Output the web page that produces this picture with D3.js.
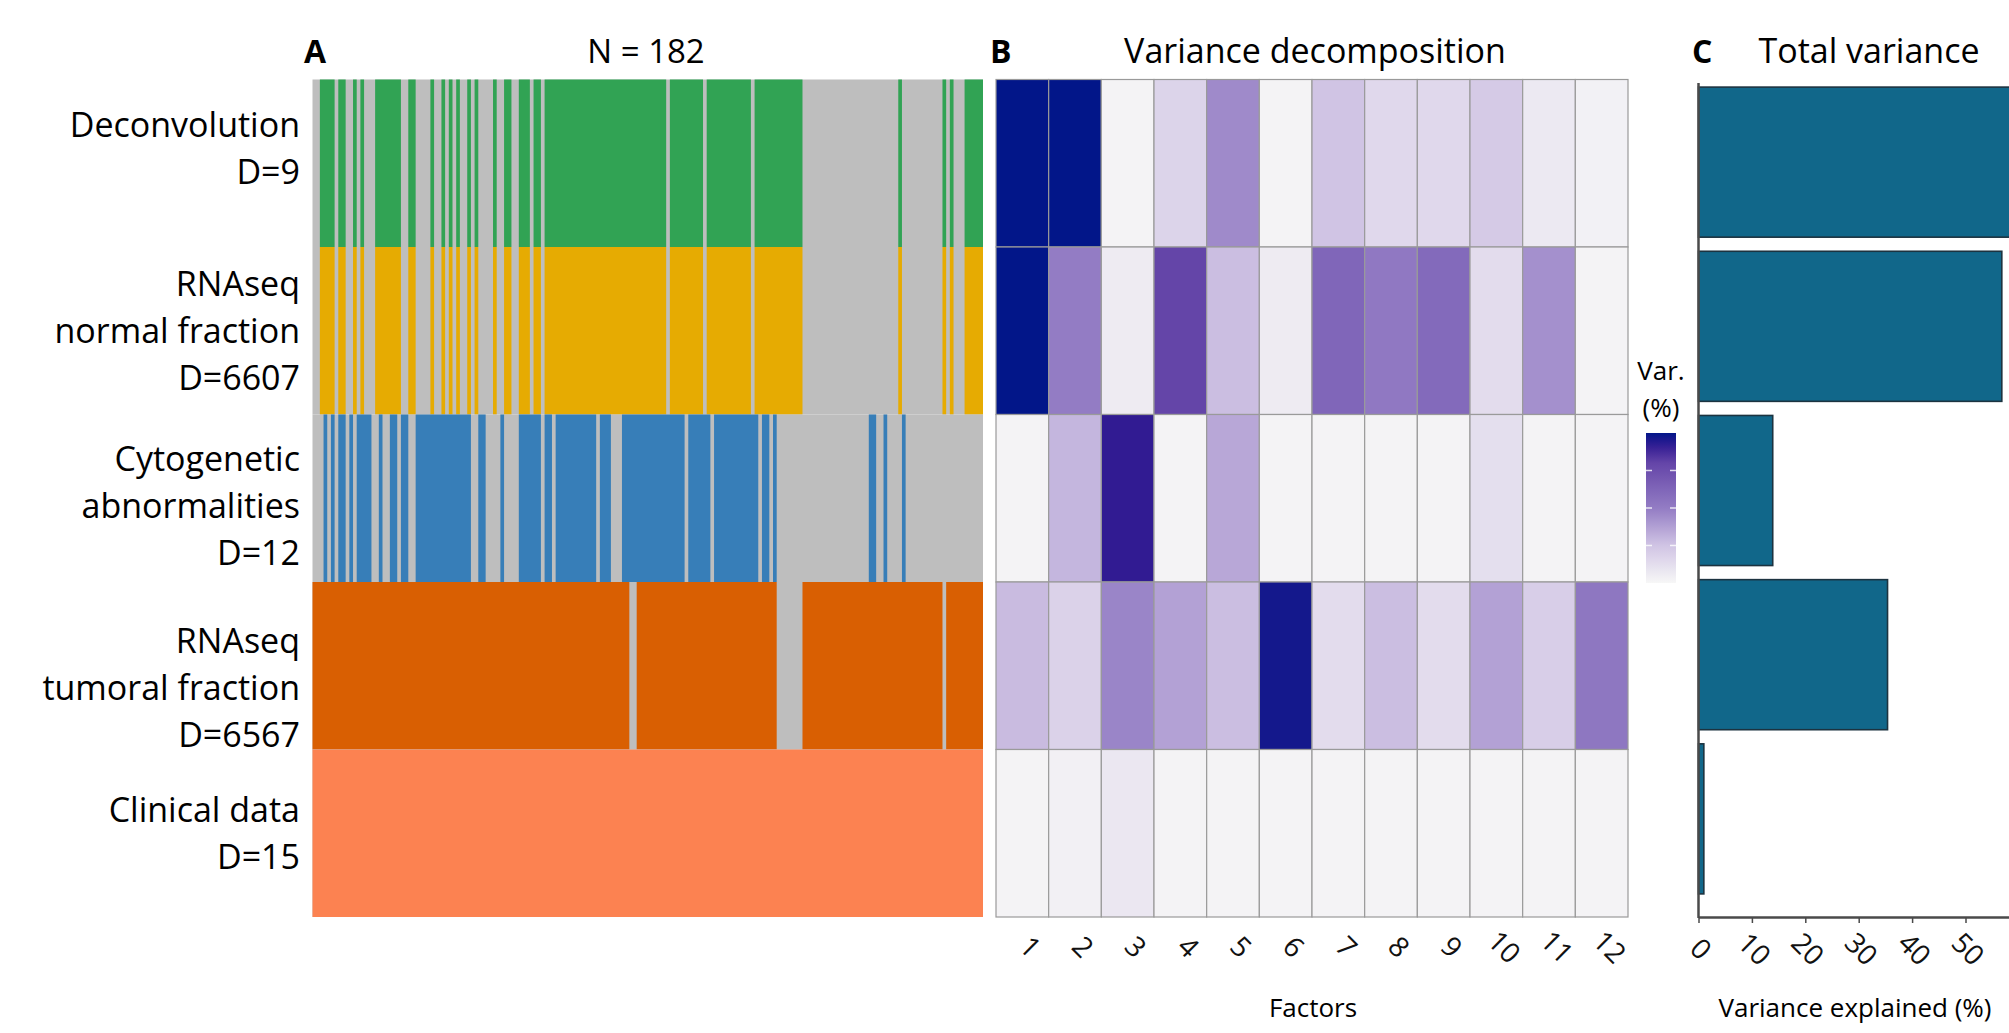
<!DOCTYPE html>
<html>
<head>
<meta charset="utf-8">
<script src="https://cdn.jsdelivr.net/npm/d3@7"></script>
<style>
  html, body { margin: 0; padding: 0; background: #ffffff; }
  svg { display: block; font-family: "Open Sans", "DejaVu Sans", sans-serif; }
</style>
</head>
<body>
<svg id="chart" width="2009" height="1033"></svg>
<script>
// ---------------- DATA ----------------
const views = ["Deconvolution", "RNAseq normal fraction", "Cytogenetic abnormalities", "RNAseq tumoral fraction", "Clinical data"];
const viewLabelLines = [
  ["Deconvolution", "D=9"],
  ["RNAseq", "normal fraction", "D=6607"],
  ["Cytogenetic", "abnormalities", "D=12"],
  ["RNAseq", "tumoral fraction", "D=6567"],
  ["Clinical data", "D=15"]
];
const nSamples = 182;

// sample index ranges [start, end) where the view is observed
const deconvolutionSamples = [[2,6],[7,9],[11,12],[13,14],[17,24],[26,28],[32,33],[35,36],[37,38],[39,40],[42,43],[44,45],[49,50],[52,54],[56,59],[60,62],[63,96],[97,106],[107,119],[120,133],[159,160],[171,172],[173,174],[177,182]];
const normalFractionSamples = [[2,6],[7,9],[11,12],[13,14],[17,24],[26,28],[32,33],[35,36],[37,38],[39,40],[42,43],[44,45],[49,50],[52,54],[56,59],[60,62],[63,96],[97,106],[107,119],[120,133],[159,160],[171,172],[173,174],[177,182]];
const cytogeneticSamples = [[3,4],[5,6],[7,9],[10,11],[12,16],[18,19],[21,23],[24,26],[28,43],[45,47],[51,52],[56,62],[63,65],[66,77],[78,81],[84,101],[102,108],[109,121],[122,124],[125,126],[151,153],[155,156],[160,161]];
const tumoralFractionSamples = [[0,86],[88,126],[133,171],[172,182]];
const clinicalSamples = [[0,182]];

const factors = ["1","2","3","4","5","6","7","8","9","10","11","12"];
// variance explained (%) per factor, per view
const varDeconvolution   = [20.0, 20.0, 0.4, 3.4, 9.0, 0.4, 5.0, 3.0, 3.0, 4.4, 1.4, 0.6];
const varNormalFraction  = [20.0, 10.0, 1.2, 16.0, 5.4, 1.2, 12.4, 10.4, 12.0, 2.6, 8.6, 0.4];
const varCytogenetic     = [0.4, 6.0, 18.4, 0.4, 7.0, 0.4, 0.4, 0.4, 0.4, 2.4, 0.4, 0.4];
const varTumoralFraction = [5.6, 3.6, 9.4, 7.4, 5.4, 19.4, 2.6, 5.4, 2.6, 7.4, 4.0, 10.6];
const varClinical        = [0.4, 0.7, 1.6, 0.4, 0.4, 0.4, 0.4, 0.4, 0.4, 0.4, 0.4, 0.4];

const totalVariance = [62.0, 56.8, 13.9, 35.4, 1.0];
const varianceTicks = [0, 10, 20, 30, 40, 50];
const legendTicks = [5, 10, 15];

// ---------------- BUILD ----------------
const presence = [deconvolutionSamples, normalFractionSamples, cytogeneticSamples, tumoralFractionSamples, clinicalSamples];
const varMatrix = [varDeconvolution, varNormalFraction, varCytogenetic, varTumoralFraction, varClinical];
const viewColors = ["#31a354", "#e6ab02", "#377eb8", "#d95f02", "#fc8251"];
const missingColor = "#bebebe";

const svg = d3.select("#chart");
svg.append("rect").attr("width", 2009).attr("height", 1033).attr("fill", "#ffffff");

const yView = d3.scaleBand().domain(views).range([79.5, 917]).padding(0);

// ----- Panel A -----
const xSample = d3.scaleLinear().domain([0, nSamples]).range([312.5, 983]);
const gA = svg.append("g");
views.forEach((v, i) => {
  gA.append("rect")
    .attr("x", xSample(0)).attr("width", xSample(nSamples) - xSample(0))
    .attr("y", yView(v)).attr("height", yView.bandwidth())
    .attr("fill", missingColor);
  gA.selectAll(null).data(presence[i]).join("rect")
    .attr("x", d => xSample(d[0]))
    .attr("width", d => xSample(d[1]) - xSample(d[0]))
    .attr("y", yView(v)).attr("height", yView.bandwidth())
    .attr("fill", viewColors[i]);
});

// view labels
const labelShift = [-15, 0, 8, 22, 0];
const lineH = 47;
views.forEach((v, i) => {
  const lines = viewLabelLines[i];
  const cy = yView(v) + yView.bandwidth() / 2 + labelShift[i];
  lines.forEach((t, k) => {
    svg.append("text")
      .attr("x", 300)
      .attr("y", cy + (k - (lines.length - 1) / 2) * lineH + 12)
      .attr("text-anchor", "end")
      .attr("font-size", 34)
      .attr("fill", "#000")
      .text(t);
  });
});

// ----- Panel B -----
const xFac = d3.scaleBand().domain(factors).range([996, 1628]).padding(0);
const colorVar = d3.scaleLinear()
  .domain([0, 5, 10, 16, 18.4, 20])
  .range(["#f7f7f7", "#d0c4e4", "#937cc4", "#6445a8", "#311b92", "#021689"])
  .clamp(true);

const cells = [];
views.forEach((v, i) => factors.forEach((f, j) => cells.push({ view: v, factor: f, value: varMatrix[i][j] })));
svg.append("g").selectAll("rect").data(cells).join("rect")
  .attr("x", d => xFac(d.factor))
  .attr("y", d => yView(d.view))
  .attr("width", xFac.bandwidth())
  .attr("height", yView.bandwidth())
  .attr("fill", d => colorVar(d.value))
  .attr("stroke", "#9a9a9a")
  .attr("stroke-width", 1.2);

const axFac = svg.append("g").attr("transform", "translate(0,917)")
  .call(d3.axisBottom(xFac).tickSize(0));
axFac.select(".domain").remove();
axFac.selectAll("text")
  .attr("font-family", "Open Sans, sans-serif")
  .attr("font-size", 28)
  .attr("fill", "#111")
  .attr("y", 0).attr("dy", 0)
  .attr("text-anchor", "middle")
  .attr("transform", "translate(1,37) rotate(45)");

// legend
const legY = d3.scaleLinear().domain([0, 20]).range([583, 433]);
const defs = svg.append("defs");
const grad = defs.append("linearGradient").attr("id", "varGrad")
  .attr("x1", 0).attr("y1", 1).attr("x2", 0).attr("y2", 0);
d3.range(0, 21, 1).forEach(s => {
  grad.append("stop").attr("offset", s / 20).attr("stop-color", colorVar(s));
});
svg.append("rect").attr("x", 1646).attr("width", 30)
  .attr("y", legY(20)).attr("height", legY(0) - legY(20))
  .attr("fill", "url(#varGrad)");
const legTickG = svg.append("g").selectAll("g").data(legendTicks).join("g");
legTickG.append("line").attr("x1", 1646).attr("x2", 1652)
  .attr("y1", d => legY(d)).attr("y2", d => legY(d))
  .attr("stroke", "#ffffff").attr("stroke-width", 1.5).attr("opacity", 0.8);
legTickG.append("line").attr("x1", 1670).attr("x2", 1676)
  .attr("y1", d => legY(d)).attr("y2", d => legY(d))
  .attr("stroke", "#ffffff").attr("stroke-width", 1.5).attr("opacity", 0.8);
svg.append("text").attr("x", 1661).attr("y", 380).attr("text-anchor", "middle")
  .attr("font-size", 26).text("Var.");
svg.append("text").attr("x", 1661).attr("y", 417).attr("text-anchor", "middle")
  .attr("font-size", 26).text("(%)");

// ----- Panel C -----
const xVar = d3.scaleLinear().domain([0, 60]).range([1698.5, 2018.9]);
const yBar = d3.scaleBand().domain(views).range([83, 898]).paddingInner(0.086).paddingOuter(0.025);

svg.append("g").selectAll("rect").data(views.map((v, i) => ({ view: v, value: totalVariance[i] }))).join("rect")
  .attr("x", xVar(0))
  .attr("y", d => yBar(d.view))
  .attr("width", d => xVar(d.value) - xVar(0))
  .attr("height", yBar.bandwidth())
  .attr("fill", "#11678a")
  .attr("stroke", "#1c3340")
  .attr("stroke-width", 1.6);

// y axis line
svg.append("line").attr("x1", xVar(0)).attr("x2", xVar(0)).attr("y1", 83).attr("y2", 918)
  .attr("stroke", "#4a4a4a").attr("stroke-width", 2.5);

const axVar = svg.append("g").attr("transform", "translate(0,917)")
  .call(d3.axisBottom(xVar).tickValues(varianceTicks).tickSize(6).tickSizeOuter(0));
axVar.select(".domain").attr("stroke", "#4a4a4a").attr("stroke-width", 2.5);
axVar.selectAll(".tick line").attr("stroke", "#4a4a4a").attr("stroke-width", 1.5);
axVar.selectAll("text")
  .attr("font-family", "Open Sans, sans-serif")
  .attr("font-size", 28)
  .attr("fill", "#111")
  .attr("y", 0).attr("dy", 0)
  .attr("text-anchor", "middle")
  .attr("transform", "translate(-5,39) rotate(45)");

// ----- Titles -----
const titles = [
  { t: "A", x: 304, anchor: "start", bold: true, size: 32 },
  { t: "N = 182", x: 646, anchor: "middle", bold: false, size: 33 },
  { t: "B", x: 990, anchor: "start", bold: true, size: 32 },
  { t: "Variance decomposition", x: 1315, anchor: "middle", bold: false, size: 34 },
  { t: "C", x: 1692, anchor: "start", bold: true, size: 32 },
  { t: "Total variance", x: 1869, anchor: "middle", bold: false, size: 34 }
];
svg.selectAll(null).data(titles).join("text")
  .attr("x", d => d.x).attr("y", 63)
  .attr("text-anchor", d => d.anchor)
  .attr("font-size", d => d.size)
  .attr("font-weight", d => d.bold ? 700 : 400)
  .attr("fill", "#000")
  .text(d => d.t);

svg.append("text").attr("x", 1313).attr("y", 1017).attr("text-anchor", "middle")
  .attr("font-size", 26).text("Factors");
svg.append("text").attr("x", 1855).attr("y", 1017).attr("text-anchor", "middle")
  .attr("font-size", 26).text("Variance explained (%)");
</script>
</body>
</html>
